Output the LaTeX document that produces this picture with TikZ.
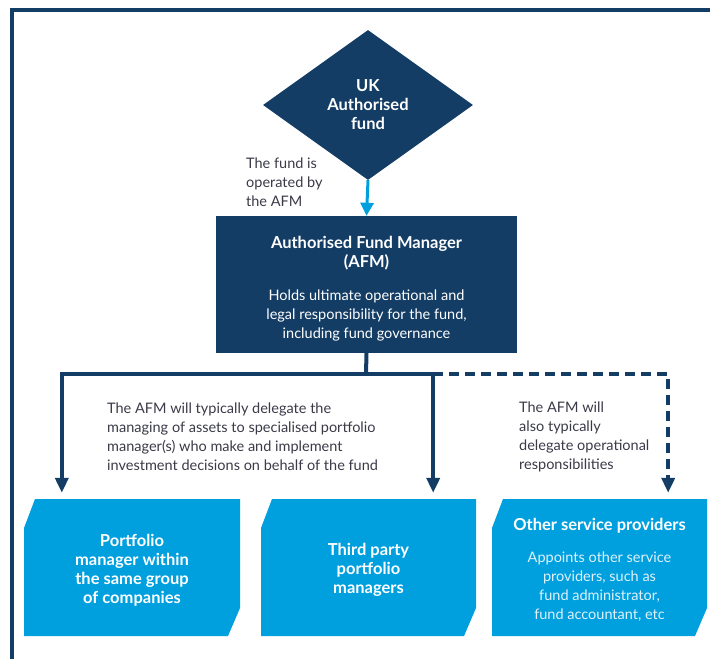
\documentclass[tikz,border=0pt]{standalone}
\usepackage{fontspec}
\setmainfont{Lato}
\usetikzlibrary{shapes.geometric,arrows.meta,positioning}

\definecolor{afmnavy}{RGB}{19,61,101}
\definecolor{afmblue}{RGB}{0,160,223}
\definecolor{afmtext}{RGB}{58,58,72}
\definecolor{afmpale}{RGB}{224,241,251}

% heading lines inside the boxes
\newcommand\afmhead[1]{{\fontsize{16.5}{19}\selectfont\bfseries #1}}

\tikzset{
  navybox/.style={rectangle, fill=afmnavy, text=white, align=center, inner sep=0pt},
  bluebox/.style={rectangle, inner sep=0pt, minimum width=215pt, minimum height=137pt,
    text=white, align=center, font=\fontsize{16.5}{19}\selectfont\bfseries,
    path picture={\fill[afmblue] ([xshift=11pt]path picture bounding box.north west)
      -- (path picture bounding box.north east)
      -- ([yshift=28pt]path picture bounding box.south east)
      -- ([xshift=-12pt]path picture bounding box.south east)
      -- (path picture bounding box.south west)
      -- ([yshift=-29pt]path picture bounding box.north west) -- cycle;}},
  note/.style={text=afmtext, align=left, inner sep=0pt, font=\fontsize{14.5}{19}\selectfont},
  link/.style={afmnavy, line width=4pt, -{Triangle[length=15pt,width=13pt]}, shorten >=6pt},
}

\begin{document}
\begin{tikzpicture}[x=1pt,y=-1pt]
    \useasboundingbox (0,0) rectangle (710,659);
    % frame
    \draw[afmnavy, line width=4pt] (710,10) -- (12,10) -- (12,659);
    %
    \node[diamond, fill=afmnavy, minimum width=210pt, minimum height=150pt, inner sep=0pt,
          text=white, align=center, font=\fontsize{16.5}{19}\selectfont\bfseries] (fund) at (368,105) {UK\\Authorised\\fund};
    \node[navybox, minimum width=301pt, minimum height=137pt, font=\fontsize{14.5}{19}\selectfont] (afm) at (366.5,284.5)
        {\mbox{}\\[1pt]\afmhead{Authorised Fund Manager}\\\afmhead{(AFM)}\\[14pt]
         Holds ultimate operational and\\legal responsibility for the fund,\\including fund governance};
    \draw[afmblue, line width=3pt, -{Triangle[length=13pt,width=13pt]}] (fund.south) -- (afm.north);
    \node[note, anchor=west] (operated) at (246,182) {The fund is\\operated by\\the AFM};
    %% bottom row
    \node[bluebox, minimum width=216pt] (pm) at (132,567.5) {\mbox{}\\[-2pt]Portfolio\\manager within\\the same group\\of companies};
    \node[bluebox] (tp) at (368.5,567.5) {\mbox{}\\[-2pt]Third party\\portfolio\\managers};
    \node[bluebox, text=afmpale, font=\fontsize{14.5}{19}\selectfont] (osp) at (599.5,567.5)
        {\mbox{}\\[-2pt]\textcolor{white}{\afmhead{Other service providers}}\\[13pt]
         Appoints other service\\providers, such as\\fund administrator,\\fund accountant, etc};
    %% delegation
    \coordinate (fork) at (366,374);
    \draw[afmnavy, line width=4pt] (afm.south) -- (fork);
    \draw[link] (fork) -| ([xshift=38pt]pm.north west);
    \draw[link] (fork) -| ([xshift=-43pt]tp.north east);
    \draw[link, dash pattern=on 10pt off 6pt] ([xshift=-43pt]tp.north east |- fork) -| ([xshift=-39pt]osp.north east);
    %
    \node[note, anchor=west] (assets) at (107,437) {The AFM will typically delegate the\\managing of assets to specialised portfolio\\manager(s) who make and implement\\investment decisions on behalf of the fund};
    \node[note, anchor=west] (ops) at (519,437) {The AFM will\\also typically\\delegate operational\\responsibilities};
\end{tikzpicture}
\end{document}
